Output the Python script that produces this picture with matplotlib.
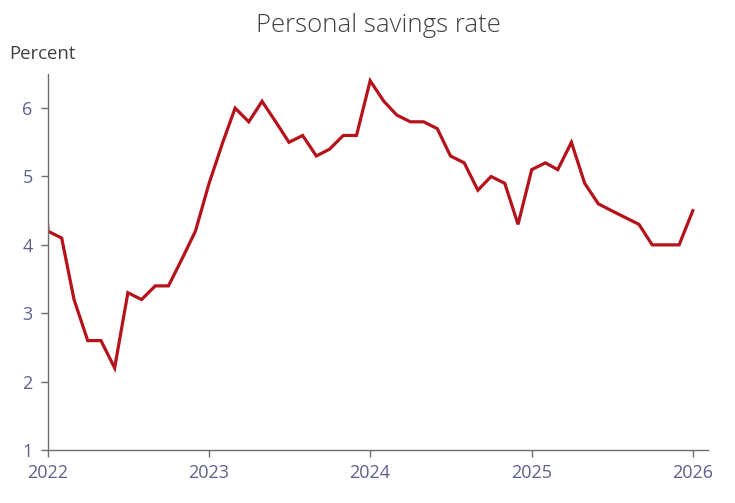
import matplotlib
matplotlib.use("Agg")
import matplotlib.pyplot as plt
import pandas as pd

# monthly personal savings rate, Dec 2021 .. Jan 2026 (percent)
months = pd.date_range("2021-12-01", "2026-01-01", freq="MS")
rate = [7.5,
        4.2, 4.1, 3.2, 2.6, 2.6, 2.2, 3.3, 3.2, 3.4, 3.4, 3.8, 4.2,
        4.9, 5.5, 6.0, 5.8, 6.1, 5.8, 5.5, 5.6, 5.3, 5.4, 5.6, 5.6,
        6.4, 6.1, 5.9, 5.8, 5.8, 5.7, 5.3, 5.2, 4.8, 5.0, 4.9, 4.3,
        5.1, 5.2, 5.1, 5.5, 4.9, 4.6, 4.5, 4.4, 4.3, 4.0, 4.0, 4.0,
        4.5]
year_ticks = ["2022", "2023", "2024", "2025", "2026"]
y_ticks = [1, 2, 3, 4, 5, 6]

plt.rcParams['font.family'] = ['Open Sans', 'DejaVu Sans']
label_col = '#5f5f8f'
spine_col = '#6e6e6e'

fig = plt.figure(figsize=(7.35, 5.03), dpi=100)
ax = fig.add_axes([0.0653, 0.1054, 0.8977, 0.7476])
ax.plot(months, rate, color='#b5121b', lw=2.3, solid_joinstyle='miter')

ax.set_xlim(pd.Timestamp("2022-01-01"), pd.Timestamp("2026-02-04"))
ax.set_ylim(1, 6.5)
ax.set_xticks([pd.Timestamp(y + "-01-01") for y in year_ticks])
ax.set_xticklabels(year_ticks)
ax.set_yticks(y_ticks)

for s in ['top', 'right']:
    ax.spines[s].set_visible(False)
for s in ['left', 'bottom']:
    ax.spines[s].set_color(spine_col)
    ax.spines[s].set_linewidth(1.0)
ax.tick_params(axis='both', colors=spine_col, labelcolor=label_col,
               labelsize=13, length=5, width=1.0)
ax.tick_params(axis='x', pad=5)
ax.tick_params(axis='y', pad=6)

fig.text(0.515, 0.950, "Personal savings rate", ha='center', va='center',
         fontsize=18.5, color='#404040', fontweight='light')
fig.text(0.012, 0.893, "Percent", ha='left', va='center',
         fontsize=13.3, color='#404040')

fig.savefig("out.png", dpi=100)
